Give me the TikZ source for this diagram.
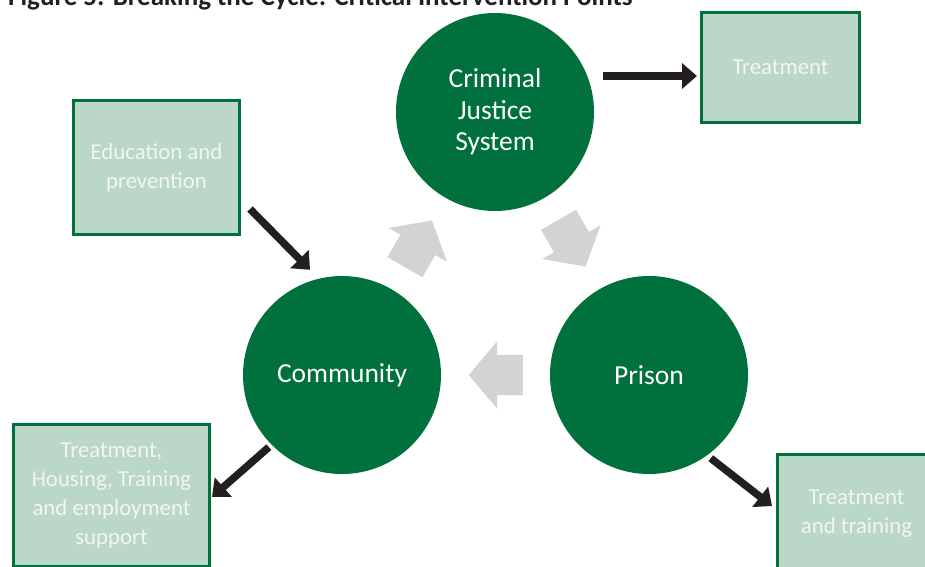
\documentclass[tikz,border=0pt]{standalone}
\usepackage{fontspec}
\setmainfont{Carlito}
\usepackage{tikz}
\usetikzlibrary{positioning,arrows.meta,shapes.arrows,calc}
\usepackage{xcolor}
\definecolor{cjgreen}{HTML}{00703C}
\definecolor{boxfill}{HTML}{BAD7C8}
\definecolor{boxtext}{HTML}{F1F6F3}
\definecolor{cyclegray}{HTML}{D1D3D4}
\definecolor{inkblack}{HTML}{231F20}

\begin{document}
\begin{tikzpicture}[
    x=1pt, y=-1pt,
    stage/.style={circle, fill=cjgreen, minimum size=198pt, inner sep=0pt, text=white, font=\fontsize{27.5}{31.5}\selectfont, align=center},
    interBox/.style={rectangle, draw=cjgreen, line width=3pt, fill=boxfill, text=boxtext, font=\fontsize{22.8}{29}\selectfont, align=center, inner sep=0pt},
    cycleArrow/.style={single arrow, fill=cyclegray, anchor=tip, inner xsep=0pt, inner ysep=20pt, minimum height=54pt, single arrow head extend=13.5pt, single arrow tip angle=100},
    pushArrow/.style={-{Triangle[length=15pt, width=25pt]}, line width=7.5pt, draw=inkblack}
]
    \useasboundingbox (0,0) rectangle (925,566);

    % Title (cut off at the top)
    \node[anchor=base west, inner sep=0pt, text=inkblack, font=\fontsize{27}{30}\selectfont\bfseries] (title) at (8,5) {Figure 5: Breaking the Cycle: Critical Intervention Points};

    % Stages of the cycle
    \node[stage] (cjs) at (495,112) {Criminal\\Justice\\System};
    \node[stage] (comm) at (342,375) {Community};
    \node[stage] (prison) at (649,375) {Prison};

    % Cycle arrows (tip placed half a length past the midpoint)
    \node[cycleArrow, rotate=60] (toCjs) at ($(comm)!0.5!(cjs)!27pt!(cjs)$) {};
    \node[cycleArrow, rotate=-60] (toPrison) at ($(cjs)!0.5!(prison)!27pt!(prison)$) {};
    \node[cycleArrow, rotate=180] (toComm) at ($(prison)!0.5!(comm)!27pt!(comm)$) {};

    % Intervention points
    \node[interBox, minimum width=158pt, minimum height=110pt] (treat) at (780.5,67.5) {Treatment};
    \node[interBox, minimum width=166pt, minimum height=134pt] (edu) at (156.5,167.5) {Education and\\prevention};
    \node[interBox, minimum width=196pt, minimum height=142pt] (housing) at (111.5,495.5) {Treatment,\\Housing, Training\\and employment\\support};
    \node[interBox, minimum width=158pt, minimum height=118pt] (training) at (856.5,513.5) {Treatment\\and training};

    % Intervention arrows
    \draw[pushArrow] ([shift={(9,-36)}]cjs.east) -- ([shift={(-3,8.5)}]treat.west);
    \draw[pushArrow] ([shift={(9,-27)}]edu.south east) -- ([shift={(-32,-6)}]comm.north);
    \draw[pushArrow] ([shift={(-3,2)}]comm.south west) -- ([shift={(1,1.5)}]housing.east);
    \draw[pushArrow] ([shift={(2,4)}]prison.-53) -- ([shift={(-4,-7.5)}]training.west);

\end{tikzpicture}
\end{document}
